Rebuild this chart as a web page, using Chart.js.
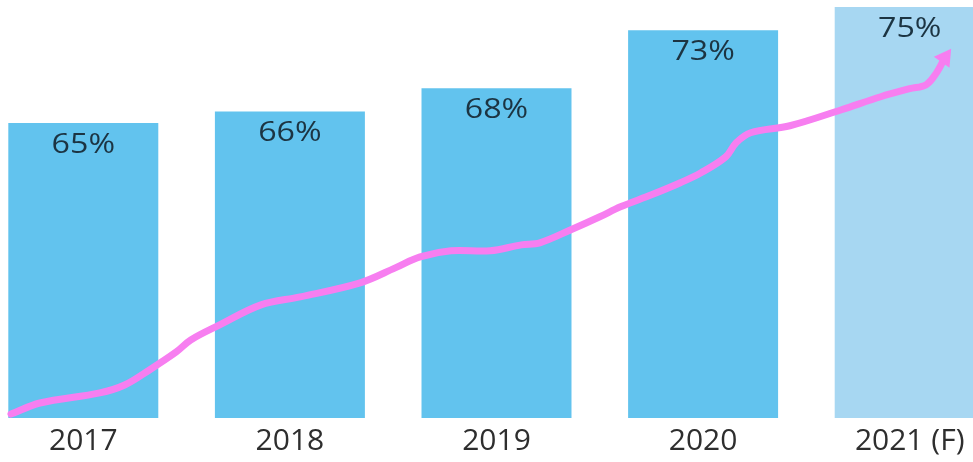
<!DOCTYPE html>
<html>
<head>
<meta charset="utf-8">
<script src="https://cdn.jsdelivr.net/npm/chart.js@4"></script>
<style>
    html, body { margin: 0; padding: 0; background: #fff; overflow: hidden; }
    #wrap { position: relative; width: 973px; height: 462px; overflow: hidden; }
    #myChart { position: absolute; left: -20px; top: 0; }
</style>
</head>
<body>
<div id="wrap">
    <canvas id="myChart" width="1033" height="462"></canvas>
</div>
<script>
// yearly share, last year is a forecast
const years = ['2017', '2018', '2019', '2020', '2021 (F)'];
const shares = [65, 66, 68, 73, 75];
const barColors = ['#62c3ee', '#62c3ee', '#62c3ee', '#62c3ee', '#a7d7f2'];

// hand drawn trend arrow, x in category units, y in percent
const trendX = [-0.35, -0.21, 0.08, 0.20, 0.32, 0.45, 0.52, 0.66, 0.86, 1.05, 1.34, 1.51, 1.63, 1.78, 1.97,
    2.12, 2.21, 2.36, 2.50, 2.60, 2.75, 2.89, 2.99, 3.11, 3.16, 3.23, 3.42, 3.67, 3.86, 4.00, 4.08, 4.13, 4.17];
const trendY = [39.94, 40.89, 41.76, 42.44, 43.74, 45.29, 46.32, 47.62, 49.34, 50.03, 51.24, 52.53, 53.48, 54.00, 54.00,
    54.51, 54.69, 55.81, 56.93, 57.79, 58.82, 59.86, 60.72, 62.10, 63.31, 64.17, 64.77, 66.15, 67.27, 67.96, 68.31, 69.34, 70.63];

const trendPoints = trendX.map((x, i) => ({x: x, y: trendY[i]}));

// percent text inside the top of each bar (font is a bit wide)
const barLabels = {
    id: 'barLabels',
    afterDatasetsDraw(chart) {
        const meta = chart.getDatasetMeta(1);
        const c = chart.ctx;
        meta.data.forEach((bar, i) => {
            c.save();
            c.translate(bar.x, bar.y + 22);
            c.scale(1.15, 1);
            c.font = '28px "Open Sans"';
            c.fillStyle = '#1c3442';
            c.textAlign = 'center';
            c.textBaseline = 'middle';
            c.fillText(shares[i] + '%', 0, 0);
            c.restore();
        });
    }
};

const ctx = document.getElementById('myChart');
new Chart(ctx, {
    data: {
        labels: years,
        datasets: [
            {
                type: 'line',
                data: trendPoints,
                xAxisID: 'x2',
                borderColor: '#f77ef0',
                borderWidth: 7,
                borderCapStyle: 'round',
                borderJoinStyle: 'round',
                tension: 0.35,
                pointRadius: trendPoints.map((p, i) => i === trendPoints.length - 1 ? 9 : 0),
                pointStyle: 'triangle',
                pointRotation: 35,
                pointBackgroundColor: '#f77ef0',
                pointBorderColor: '#f77ef0',
                pointBorderWidth: 2,
                order: 0
            },
            {
                type: 'bar',
                data: shares,
                backgroundColor: barColors,
                grouped: false,
                categoryPercentage: 1,
                barPercentage: 0.726,
                order: 1
            }
        ]
    },
    options: {
        responsive: false,
        animation: false,
        layout: { padding: 0, autoPadding: false },
        plugins: {
            legend: { display: false },
            tooltip: { enabled: false }
        },
        scales: {
            x: {
                grid: { display: false, drawTicks: false },
                border: { display: false },
                ticks: {
                    color: '#2e2e2e',
                    font: { family: 'Open Sans', size: 30 },
                    padding: 5,
                    maxRotation: 0
                },
                afterFit(scale) { scale.height = 44; }
            },
            x2: {
                type: 'linear',
                display: false,
                min: -0.5,
                max: 4.5
            },
            y: {
                display: false,
                min: 39.6,
                max: 75.6
            }
        }
    },
    plugins: [barLabels]
});
</script>
</body>
</html>
